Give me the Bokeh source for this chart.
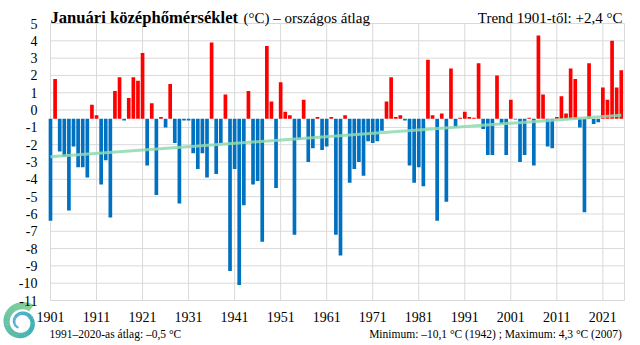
import numpy as np
from bokeh.plotting import figure
from bokeh.models import Range1d, FixedTicker, Label
from bokeh.embed import file_html
from bokeh.resources import INLINE

# ---------------- data ----------------
years = list(range(1901, 2026))
temps = [
    -6.4, 1.8, -2.4, -2.7, -5.8, -2.1, -3.3, -3.3, -3.9, 0.3,      # 1901-1910
    -0.3, -4.3, -2.9, -6.2, 1.1, 1.9, -0.6, 0.7, 1.9, 1.7,         # 1911-1920
    3.3, -3.2, 0.4, -4.9, -0.4, -1.0, 1.5, -1.9, -5.4, -0.6,       # 1921-1930
    -0.6, -2.5, -3.4, -2.5, -3.9, 3.9, -3.7, -1.9, 0.9, -9.3,      # 1931-1940
    -3.4, -10.1, -5.5, 1.1, -4.3, -4.1, -7.6, 3.7, 0.5, -4.5,      # 1941-1950
    1.6, -0.1, -0.3, -7.2, -1.7, 0.6, -3.0, -2.2, -0.4, -2.3,      # 1951-1960
    -2.1, -0.4, -7.2, -8.4, -0.3, -4.2, -3.4, -3.0, -3.8, -1.8,    # 1961-1970
    -1.9, -1.8, -1.2, 0.5, 1.9, -0.4, -0.3, -0.6, -3.2, -4.2,      # 1971-1980
    -3.3, -4.4, 2.9, -0.3, -6.4, -0.2, -5.3, 2.4, -1.0, -0.45,     # 1981-1990
    -0.1, -0.4, -0.45, 2.7, -1.1, -2.6, -2.6, 2.0, -0.8, -2.6,     # 1991-2000
    0.6, -0.55, -3.0, -2.6, -0.45, -3.2, 4.3, 0.9, -2.1, -2.2,     # 2001-2010
    -0.4, 0.8, -0.2, 2.4, 1.8, -1.0, -5.9, 2.7, -0.8, -0.7,        # 2011-2020
    1.3, 0.6, 4.0, 1.3, 2.3,                                       # 2021-2025
]
baseline = -0.5
trend_years = [1901, 2025]
trend_vals = [-2.7, -0.3]

x_ticks = list(range(1901, 2022, 10))
x_tick_labels = [str(t) for t in x_ticks]
y_ticks = list(range(-11, 6))
y_tick_labels = [str(t) for t in y_ticks]

title_bold = "Januári középhőmérséklet"
title_rest = "(°C) – országos átlag"
trend_text = "Trend 1901-től: +2,4 °C"
avg_text = "1991–2020-as átlag:  –0,5 °C"
minmax_text = "Minimum:  –10,1 °C (1942) ; Maximum:  4,3 °C (2007)"

RED = "#FF0000"
BLUE = "#0070C0"
GRID = "#D9D9D9"
FONT = "Liberation Serif"

# ---------------- geometry: plot area inside a full-canvas frame ----------------
W, H = 640, 345
AL, AR, AT, AB = 50, 624, 23, 300          # plot-area pixel box
X0, X1 = 1901, 2025.7                       # data extent of plot area
Y0, Y1 = -11, 5
kx = (X1 - X0) / (AR - AL)
ky = (Y1 - Y0) / (AB - AT)
def px2x(px):
    return X0 + (px - AL) * kx
def py2y(py):
    return Y1 - (py - AT) * ky

p = figure(width=W, height=H,
           x_range=Range1d(px2x(0), px2x(W)), y_range=Range1d(py2y(H), py2y(0)),
           output_backend="svg", toolbar_location=None,
           min_border=0, min_border_left=0, min_border_right=0,
           min_border_top=0, min_border_bottom=0)
p.background_fill_color = "white"
p.border_fill_color = "white"
p.outline_line_color = None
p.xgrid.visible = False
p.ygrid.visible = False

# gridlines (within plot area only)
v_lines = x_ticks + [X1]
p.segment(x0=v_lines, y0=[Y0] * len(v_lines), x1=v_lines, y1=[Y1] * len(v_lines),
          line_color=GRID, line_width=1)
p.segment(x0=[X0] * len(y_ticks), y0=y_ticks, x1=[X1] * len(y_ticks), y1=y_ticks,
          line_color=GRID, line_width=1)

# bars
colors = [RED if t > baseline else BLUE for t in temps]
p.vbar(x=years, top=temps, bottom=baseline, width=0.8, fill_color=colors, line_color=None)

# trend
p.line(trend_years, trend_vals, line_color="#8FD9B0", line_width=3, line_alpha=0.85)

# axes fixed at the plot-area edges
p.xaxis.fixed_location = Y0
p.yaxis.fixed_location = X0
p.xaxis.ticker = FixedTicker(ticks=x_ticks)
p.xaxis.major_label_overrides = {t: l for t, l in zip(x_ticks, x_tick_labels)}
p.yaxis.ticker = FixedTicker(ticks=y_ticks)
p.yaxis.major_label_overrides = {t: l for t, l in zip(y_ticks, y_tick_labels)}
for ax in (p.xaxis, p.yaxis):
    ax.axis_line_color = None
    ax.major_tick_line_color = None
    ax.minor_tick_line_color = None
    ax.major_tick_out = 0
    ax.major_tick_in = 0
    ax.major_label_text_font = FONT
    ax.major_label_text_font_size = "14px"
    ax.major_label_text_color = "#000000"
p.xaxis.major_label_standoff = 11
p.yaxis.major_label_standoff = 13

# ---------------- texts ----------------
def add_label(px, py, text, size, align, bold=False):
    p.add_layout(Label(x=px2x(px), y=py2y(py), text=text, text_font=FONT,
                       text_font_size=size, text_font_style="bold" if bold else "normal",
                       text_color="#000000", text_baseline="alphabetic", text_align=align))

add_label(50, 17, title_bold, "16.6px", "left", bold=True)
add_label(243, 17, title_rest, "15px", "left")
add_label(622, 17, trend_text, "15px", "right")
add_label(49, 333, avg_text, "11.5px", "left")
add_label(627, 333, minmax_text, "11.5px", "right")

# ---------------- logo (spiral) ----------------
cx, cy = 21, 322
def lerp(a, b, t):
    return tuple(int(round(a[i] + (b[i] - a[i]) * t)) for i in range(3))
c_start, c_mid, c_end = (125, 205, 140), (40, 168, 172), (70, 165, 215)
th0, th1 = 55.0, 600.0
step = 12.0
logo_xs, logo_ys, logo_cols = [], [], []
th = th0
while th < th1 - 1e-6:
    a, b = th, min(th + step + 1.0, th1)
    ts = np.linspace(a, b, 6)
    f = (ts - th0) / (th1 - th0)
    r = 17.5 - 11.5 * f
    w = 7.5 - 5.5 * f
    ro, ri = r + w / 2, r - w / 2
    ang = np.radians(ts)
    ox = cx + ro * np.cos(ang); oy = cy - ro * np.sin(ang)
    ix = cx + ri * np.cos(ang); iy = cy - ri * np.sin(ang)
    xs = list(ox) + list(ix[::-1])
    ys = list(oy) + list(iy[::-1])
    fm = ((a + b) / 2 - th0) / (th1 - th0)
    col = lerp(c_start, c_mid, fm * 2) if fm < 0.5 else lerp(c_mid, c_end, (fm - 0.5) * 2)
    logo_xs.append([px2x(v) for v in xs])
    logo_ys.append([py2y(v) for v in ys])
    logo_cols.append("#%02x%02x%02x" % col)
    th += step
p.patches(logo_xs, logo_ys, fill_color=logo_cols, fill_alpha=0.9, line_color=None)

open("out.html", "w").write(file_html(p, INLINE))
